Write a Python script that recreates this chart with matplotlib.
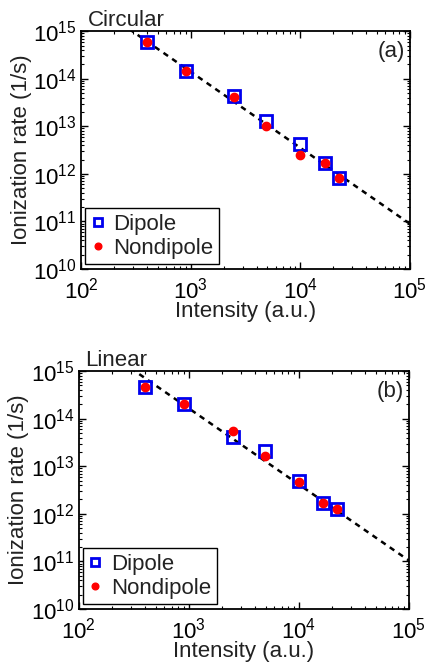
import numpy as np
import matplotlib
matplotlib.use("Agg")
import matplotlib.pyplot as plt
from matplotlib.ticker import LogLocator, NullFormatter

plt.rcParams['font.family'] = ['Liberation Sans', 'DejaVu Sans']
plt.rcParams['mathtext.fontset'] = 'custom'
plt.rcParams['mathtext.rm'] = 'Liberation Sans'
plt.rcParams['mathtext.it'] = 'Liberation Sans:italic'

intensity = [400, 900, 2500, 4900, 10000, 16700, 22400]

circ_dipole = [6.0e14, 1.43e14, 4.4e13, 1.29e13, 4.2e12, 1.67e12, 8.1e11]
circ_nondipole = [5.9e14, 1.43e14, 4.05e13, 1.03e13, 2.5e12, 1.67e12, 8.1e11]

lin_dipole = [4.6e14, 2.0e14, 4.1e13, 2.07e13, 4.96e12, 1.69e12, 1.26e12]
lin_nondipole = [4.6e14, 2.0e14, 5.5e13, 1.68e13, 4.66e12, 1.69e12, 1.26e12]

fit_slope = -1.6
circ_fit_at_1e5 = 8.9e10
lin_fit_at_1e5 = 1.04e11

panels = [
    ("Circular", "(a)", circ_dipole, circ_nondipole, circ_fit_at_1e5),
    ("Linear", "(b)", lin_dipole, lin_nondipole, lin_fit_at_1e5),
]
positions = [[0.190, 0.595, 0.772, 0.358], [0.185, 0.083, 0.775, 0.358]]

fig = plt.figure(figsize=(4.26, 6.64), dpi=100)
fs = 16
for (title, tag, dip, nondip, fitc), pos in zip(panels, positions):
    ax = fig.add_axes(pos)
    xf = np.logspace(2, 5, 200)
    yf = fitc * (xf / 1e5) ** fit_slope
    ax.plot(xf, yf, linestyle=(0, (2.2, 2.0)), color='black', lw=1.8, zorder=1)
    ax.plot(intensity, dip, linestyle='none', marker='s', markersize=8,
            markerfacecolor='none', markeredgecolor='#0000ee', markeredgewidth=2,
            label='Dipole', zorder=2)
    ax.plot(intensity, nondip, linestyle='none', marker='o', markersize=6,
            markerfacecolor='#ff0000', markeredgecolor='#ff0000',
            label='Nondipole', zorder=3)
    ax.set_xscale('log')
    ax.set_yscale('log')
    ax.set_xlim(1e2, 1e5)
    ax.set_ylim(1e10, 1e15)
    ax.xaxis.set_major_locator(LogLocator(base=10, numticks=10))
    ax.yaxis.set_major_locator(LogLocator(base=10, numticks=10))
    ax.xaxis.set_minor_locator(LogLocator(base=10, subs=np.arange(2, 10), numticks=20))
    ax.yaxis.set_minor_locator(LogLocator(base=10, subs=np.arange(2, 10), numticks=20))
    ax.xaxis.set_minor_formatter(NullFormatter())
    ax.yaxis.set_minor_formatter(NullFormatter())
    ax.tick_params(which='both', direction='in', top=True, right=True,
                   labelsize=fs, colors='black')
    ax.tick_params(which='major', length=5, width=1)
    ax.tick_params(which='minor', length=2.5, width=0.8)
    ax.tick_params(axis='x', pad=6.5)
    ax.tick_params(axis='y', pad=3)
    for t in ax.get_yticklabels():
        t.set_verticalalignment('center_baseline')
    for s in ax.spines.values():
        s.set_linewidth(1.3)
    ax.set_xlabel('Intensity (a.u.)', fontsize=fs, color='#222222')
    ax.xaxis.set_label_coords(0.5, -0.137)
    ax.set_ylabel('Ionization rate (1/s)', fontsize=fs, color='#222222')
    ax.yaxis.set_label_coords(-0.15, 0.5)
    ax.text(0.02, 1.0, title, transform=ax.transAxes, fontsize=fs,
            ha='left', va='bottom', color='#222222')
    ax.text(0.985, 0.96, tag, transform=ax.transAxes, fontsize=fs,
            ha='right', va='top', color='#222222')
    leg = ax.legend(loc='lower left', fontsize=fs, frameon=True, fancybox=False,
                    edgecolor='black', framealpha=1, borderpad=0.25,
                    handlelength=0.6, handletextpad=0.4, labelspacing=0.15,
                    borderaxespad=0.2, markerscale=0.8)
    leg.get_frame().set_linewidth(1.0)
    for t in leg.get_texts():
        t.set_color('#222222')

fig.savefig('out.png', dpi=100)
